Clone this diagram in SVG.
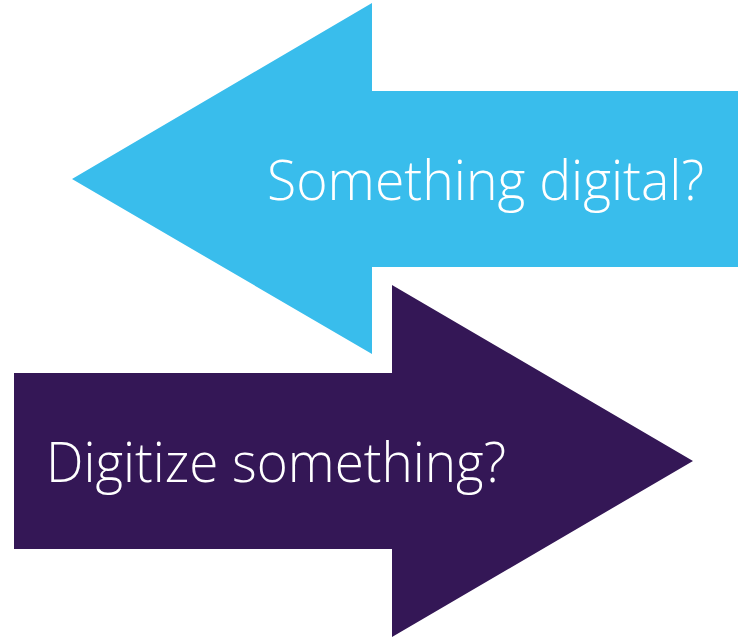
<svg xmlns="http://www.w3.org/2000/svg" width="738" height="639" viewBox="0 0 738 639">
  <style>
    .lbl { font-family: "Open Sans", "Noto Sans", "Liberation Sans", sans-serif; font-weight: 300; font-size: 56px; fill: #ffffff; }
  </style>
  <rect width="738" height="639" fill="#ffffff"/>
  <g id="arrow-left">
    <polygon points="72,179 372,3 372,91 738,91 738,267 372,267 372,354" fill="#39BDEC"/>
    <text class="lbl" x="267" y="200" textLength="437" lengthAdjust="spacingAndGlyphs">Something digital?</text>
  </g>
  <g id="arrow-right">
    <polygon points="14,373 392,373 392,285 693,461 392,637 392,549 14,549" fill="#341756"/>
    <text class="lbl" x="46" y="482" textLength="460" lengthAdjust="spacingAndGlyphs">Digitize something?</text>
  </g>
  <g id="connectors"/>
</svg>
